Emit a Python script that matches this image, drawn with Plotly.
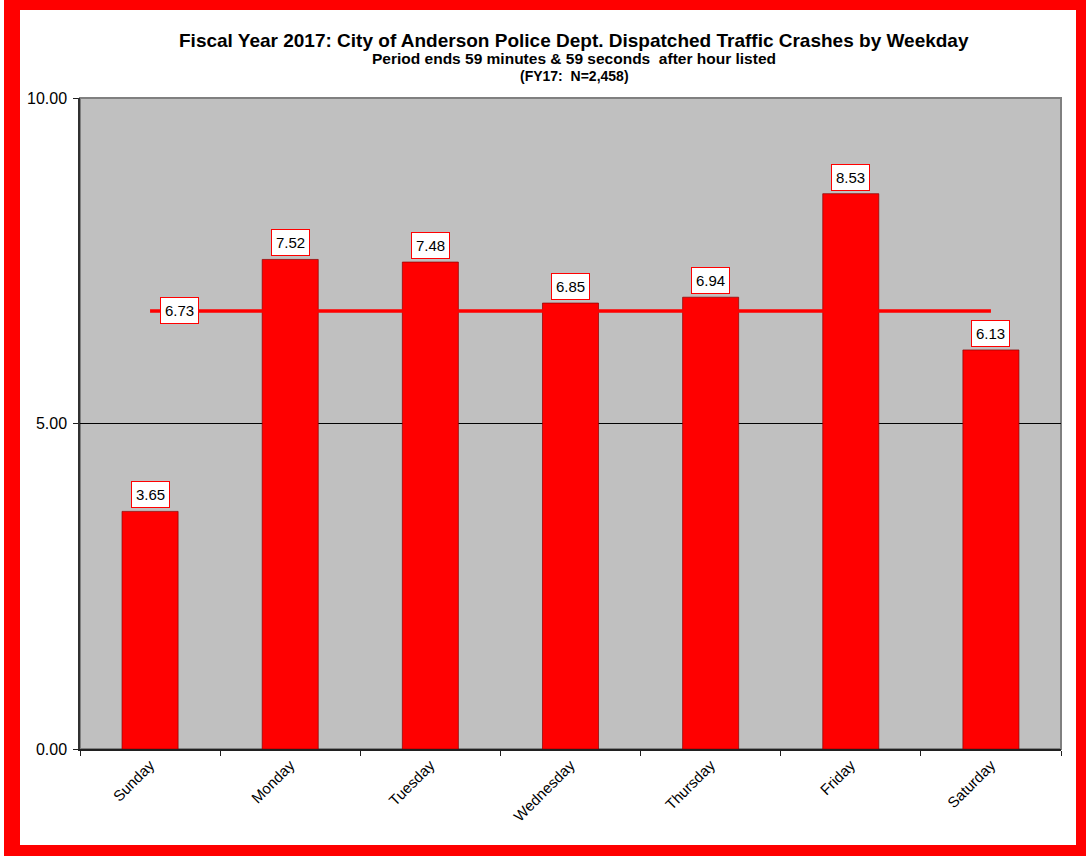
import plotly.graph_objects as go

# Weekday averages of dispatched traffic crashes, FY17
days = ["Sunday", "Monday", "Tuesday", "Wednesday", "Thursday", "Friday", "Saturday"]
crashes = [3.65, 7.52, 7.48, 6.85, 6.94, 8.53, 6.13]
mean_value = 6.73
y_ticks = [0, 5, 10]
y_tick_text = ["0.00", "5.00", "10.00"]

W, H = 1086, 856
L, R, T, B = 80, 1061, 98, 749          # plot area in pixels
RED = "#ff0000"
FONT = "Liberation Sans, Arial, sans-serif"


def px(x):
    return (x - L) / (R - L)


def py(y):
    return (B - y) / (B - T)


fig = go.Figure()

fig.add_trace(go.Bar(
    x=days, y=crashes, width=0.4,
    marker=dict(color=RED, line=dict(color="rgba(140,0,0,0.7)", width=1)),
    hoverinfo="x+y", showlegend=False,
))

fig.add_trace(go.Scatter(
    x=days, y=[mean_value] * len(days), mode="lines",
    line=dict(color=RED, width=3.5), hoverinfo="skip", showlegend=False,
))

annotations = []
for d, v in zip(days, crashes):
    annotations.append(dict(
        x=d, y=v, xref="x", yref="y", text=f"{v:.2f}", showarrow=False,
        yanchor="bottom", yshift=3, bgcolor="white", bordercolor=RED,
        borderwidth=1, borderpad=4, font=dict(family=FONT, size=15, color="black"),
    ))

annotations.append(dict(
    x=days[0], y=mean_value, xref="x", yref="y", text=f"{mean_value:.2f}",
    showarrow=False, xshift=29, bgcolor="white", bordercolor=RED,
    borderwidth=1, borderpad=4, font=dict(family=FONT, size=15, color="black"),
))

title_lines = [
    ("Fiscal Year 2017: City of Anderson Police Dept. Dispatched Traffic Crashes by Weekday", 19, 40),
    ("Period ends 59 minutes & 59 seconds  after hour listed", 15.5, 59),
    ("(FY17:  N=2,458)", 14, 76),
]
for text, size, ypix in title_lines:
    annotations.append(dict(
        x=px(574), y=py(ypix), xref="paper", yref="paper", text=f"<b>{text}</b>",
        showarrow=False, xanchor="center", yanchor="middle",
        font=dict(family=FONT, size=size, color="black"),
    ))

shapes = [
    # plot frame (top/right in gray)
    dict(type="rect", xref="paper", yref="paper", x0=0, x1=1, y0=0, y1=1,
         line=dict(color="#808080", width=2), layer="below"),
]
# red page border
border = [(4, 0, 1086, 10), (4, 0, 20, 856), (1076, 0, 1086, 856), (4, 845, 1086, 856)]
for x0, y0, x1, y1 in border:
    shapes.append(dict(type="rect", xref="paper", yref="paper",
                       x0=px(x0), x1=px(x1), y0=py(y1), y1=py(y0),
                       fillcolor=RED, line=dict(width=0), layer="above"))

fig.update_layout(
    width=W, height=H,
    margin=dict(l=L, r=W - R, t=T, b=H - B, pad=0),
    paper_bgcolor="white", plot_bgcolor="#c0c0c0",
    font=dict(family=FONT, size=15, color="black"),
    bargap=0.6,
    annotations=annotations, shapes=shapes,
    xaxis=dict(
        type="category", tickangle=-45, tickson="boundaries", ticks="outside",
        ticklen=5, tickcolor="#202020", showline=True, linecolor="#202020",
        linewidth=1.5, showgrid=False, tickfont=dict(family=FONT, size=15),
        fixedrange=True,
    ),
    yaxis=dict(
        range=[0, 10], tickvals=y_ticks, ticktext=y_tick_text, ticks="outside",
        ticklen=5, tickcolor="#202020", showline=True, linecolor="#303030",
        linewidth=1.5, showgrid=True, gridcolor="black", gridwidth=1,
        zeroline=False, tickfont=dict(family=FONT, size=16), fixedrange=True,
        ticklabelstandoff=3,
    ),
)

fig.write_html("out.html")
